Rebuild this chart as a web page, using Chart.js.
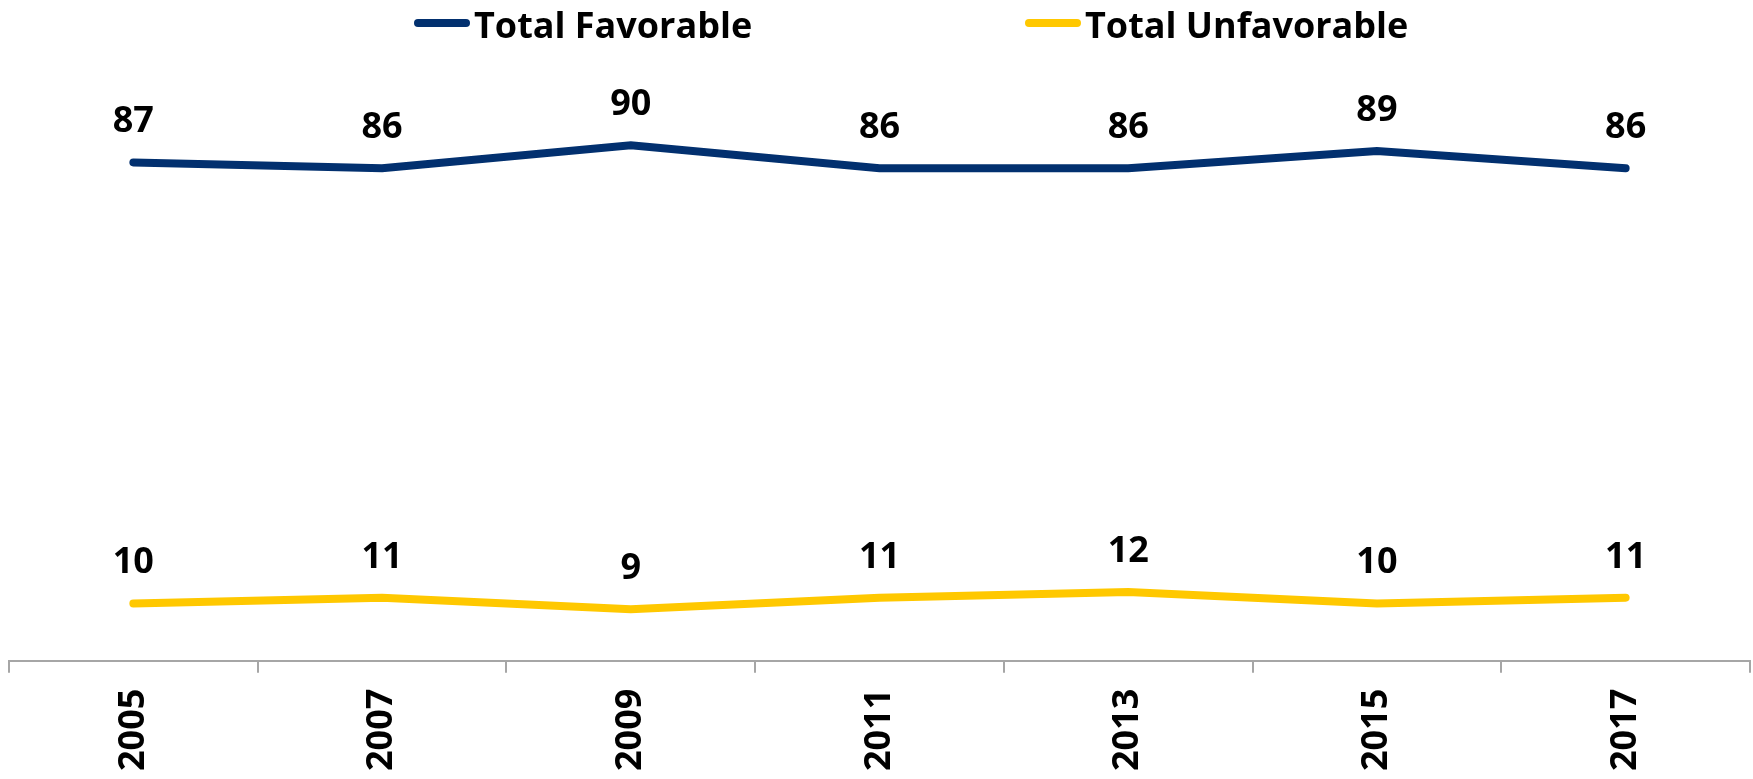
<!DOCTYPE html>
<html>
<head>
    <title>Favorable / Unfavorable</title>
    <script src="https://cdn.jsdelivr.net/npm/chart.js"></script>
    <style>
        html, body { margin: 0; padding: 0; background: #fff; }
        #wrap { width: 1753px; height: 779px; }
    </style>
</head>
<body>
    <div id="wrap"><canvas id="myChart"></canvas></div>

    <script>
        var years = ["2005", "2007", "2009", "2011", "2013", "2015", "2017"];
        var favorable = [87, 86, 90, 86, 86, 89, 86];
        var unfavorable = [10, 11, 9, 11, 12, 10, 11];
        var seriesNames = ["Total Favorable", "Total Unfavorable"];

        var FONT = "'Open Sans', sans-serif";
        var BLUE = "#02306f";
        var YELLOW = "#ffc800";

        // value labels above every point
        var valueLabels = {
            id: "valueLabels",
            afterDatasetsDraw: function (chart) {
                var ctx = chart.ctx;
                ctx.save();
                ctx.font = "bold 36px " + FONT;
                ctx.fillStyle = "#000";
                ctx.textAlign = "center";
                ctx.textBaseline = "alphabetic";
                chart.data.datasets.forEach(function (ds, i) {
                    chart.getDatasetMeta(i).data.forEach(function (pt, j) {
                        ctx.fillText(String(ds.data[j]), pt.x, pt.y - 30);
                    });
                });
                ctx.restore();
            }
        };

        // legend with the wide gap between the two entries
        var wideLegend = {
            id: "wideLegend",
            afterDraw: function (chart) {
                var ctx = chart.ctx;
                var starts = [414, 1025];
                ctx.save();
                ctx.font = "bold 36px " + FONT;
                ctx.textBaseline = "alphabetic";
                ctx.textAlign = "left";
                chart.data.datasets.forEach(function (ds, i) {
                    var x = starts[i];
                    ctx.strokeStyle = ds.borderColor;
                    ctx.lineWidth = 8;
                    ctx.lineCap = "round";
                    ctx.beginPath();
                    ctx.moveTo(x + 4, 23);
                    ctx.lineTo(x + 52, 23);
                    ctx.stroke();
                    ctx.fillStyle = "#000";
                    ctx.fillText(ds.label, x + 60, 38);
                });
                ctx.restore();
            }
        };

        var ctx = document.getElementById("myChart").getContext("2d");
        new Chart(ctx, {
            type: "line",
            data: {
                labels: years,
                datasets: [
                    {
                        label: seriesNames[0],
                        data: favorable,
                        borderColor: BLUE,
                        backgroundColor: BLUE,
                        borderWidth: 8,
                        pointRadius: 0,
                        tension: 0,
                        borderCapStyle: "round"
                    },
                    {
                        label: seriesNames[1],
                        data: unfavorable,
                        borderColor: YELLOW,
                        backgroundColor: YELLOW,
                        borderWidth: 8,
                        pointRadius: 0,
                        tension: 0,
                        borderCapStyle: "round"
                    }
                ]
            },
            options: {
                responsive: true,
                maintainAspectRatio: false,
                animation: false,
                layout: {
                    padding: { top: 88, left: 9, right: 3, bottom: -8 }
                },
                plugins: {
                    legend: { display: false },
                    tooltip: { enabled: false }
                },
                scales: {
                    x: {
                        offset: true,
                        grid: {
                            display: true,
                            offset: true,
                            drawOnChartArea: false,
                            tickLength: 12,
                            color: "#a6a6a6",
                            lineWidth: 2
                        },
                        border: { color: "#a6a6a6", width: 2 },
                        ticks: {
                            color: "#000",
                            font: { family: FONT, size: 36, weight: "bold" },
                            minRotation: 90,
                            maxRotation: 90,
                            padding: 16
                        }
                    },
                    y: {
                        display: false,
                        min: 0,
                        max: 100
                    }
                }
            },
            plugins: [valueLabels, wideLegend]
        });
    </script>
</body>
</html>
